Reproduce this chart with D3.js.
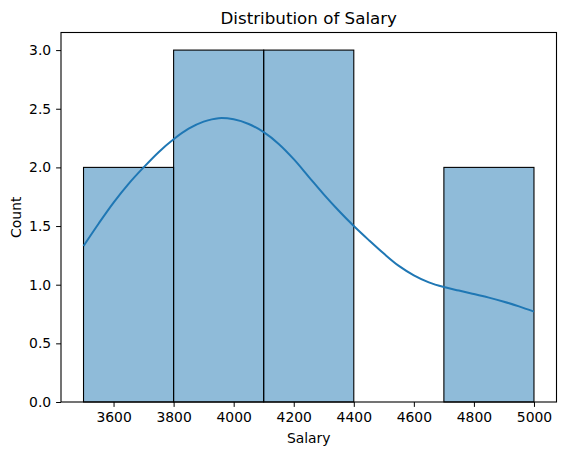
<!DOCTYPE html>
<html>
<head>
<meta charset="utf-8">
<script src="https://cdn.jsdelivr.net/npm/d3@7"></script>
<style>
  html, body { margin: 0; padding: 0; background: #fff; }
  svg { display: block; font-family: "DejaVu Sans", sans-serif; }
</style>
</head>
<body>
<div id="chart"></div>
<script>
// Histogram bins (edges) and counts
const binStarts = [3500, 3800, 4100, 4400, 4700];
const binWidth = 300;
const counts = [2, 3, 3, 0, 2];

// KDE curve
const kdeX = [3500, 3550, 3600, 3650, 3700, 3750, 3800, 3850, 3900, 3950, 4000,
              4050, 4100, 4150, 4200, 4250, 4300, 4350, 4400, 4450, 4500,
              4550, 4600, 4650, 4700, 4750, 4800, 4850, 4900, 4950, 5000];
const kdeY = [1.33, 1.52, 1.70, 1.86, 2.00, 2.13, 2.24, 2.33, 2.39, 2.42, 2.41,
              2.37, 2.30, 2.20, 2.07, 1.92, 1.77, 1.63, 1.50, 1.38, 1.265,
              1.16, 1.08, 1.02, 0.98, 0.95, 0.92, 0.89, 0.855, 0.815, 0.77];

const xTicks = [3600, 3800, 4000, 4200, 4400, 4600, 4800, 5000];
const yTicks = [0, 0.5, 1.0, 1.5, 2.0, 2.5, 3.0];

const width = 567, height = 455;
const margin = { left: 61, right: 10.5, top: 32.5, bottom: 53 };

const svg = d3.select('#chart').append('svg')
    .attr('width', width)
    .attr('height', height);

const x = d3.scaleLinear()
    .domain([3425, 5075])
    .range([margin.left, width - margin.right]);

const y = d3.scaleLinear()
    .domain([0, 3.15])
    .range([height - margin.bottom, margin.top]);

// Bars
svg.append('g')
    .selectAll('rect')
    .data(binStarts.map((s, i) => ({ s, c: counts[i] })))
    .join('rect')
    .attr('x', d => x(d.s))
    .attr('y', d => y(d.c))
    .attr('width', d => x(d.s + binWidth) - x(d.s))
    .attr('height', d => y(0) - y(d.c))
    .attr('fill', 'rgba(31,119,180,0.5)')
    .attr('stroke', '#000')
    .attr('stroke-width', 1.1);

// KDE line
const line = d3.line()
    .x(d => x(d[0]))
    .y(d => y(d[1]))
    .curve(d3.curveCatmullRom.alpha(0.5));

svg.append('path')
    .datum(kdeX.map((v, i) => [v, kdeY[i]]))
    .attr('d', line)
    .attr('fill', 'none')
    .attr('stroke', '#1f77b4')
    .attr('stroke-width', 2);

// Axes
const xAxis = svg.append('g')
    .attr('transform', `translate(0,${height - margin.bottom})`)
    .call(d3.axisBottom(x).tickValues(xTicks).tickFormat(d3.format('d'))
        .tickSize(4.9).tickPadding(4.9));

const yAxis = svg.append('g')
    .attr('transform', `translate(${margin.left},0)`)
    .call(d3.axisLeft(y).tickValues(yTicks).tickFormat(d3.format('.1f'))
        .tickSize(4.9).tickPadding(4.9));

[xAxis, yAxis].forEach(a => {
    a.select('.domain').remove();
    a.selectAll('line').attr('stroke', '#000').attr('stroke-width', 1);
    a.selectAll('text')
        .attr('fill', '#000')
        .style('font-size', '13.9px')
        .style('font-family', '"DejaVu Sans", sans-serif');
});

// Frame (spines)
svg.append('rect')
    .attr('x', margin.left)
    .attr('y', margin.top)
    .attr('width', width - margin.left - margin.right)
    .attr('height', height - margin.top - margin.bottom)
    .attr('fill', 'none')
    .attr('stroke', '#000')
    .attr('stroke-width', 1.1);

// Labels
svg.append('text')
    .attr('x', (margin.left + width - margin.right) / 2)
    .attr('y', 24)
    .attr('text-anchor', 'middle')
    .style('font-size', '16.7px')
    .text('Distribution of Salary');

svg.append('text')
    .attr('x', (margin.left + width - margin.right) / 2)
    .attr('y', 443)
    .attr('text-anchor', 'middle')
    .style('font-size', '13.9px')
    .text('Salary');

svg.append('text')
    .attr('transform', `translate(21,${(margin.top + height - margin.bottom) / 2}) rotate(-90)`)
    .attr('text-anchor', 'middle')
    .style('font-size', '13.9px')
    .text('Count');
</script>
</body>
</html>
